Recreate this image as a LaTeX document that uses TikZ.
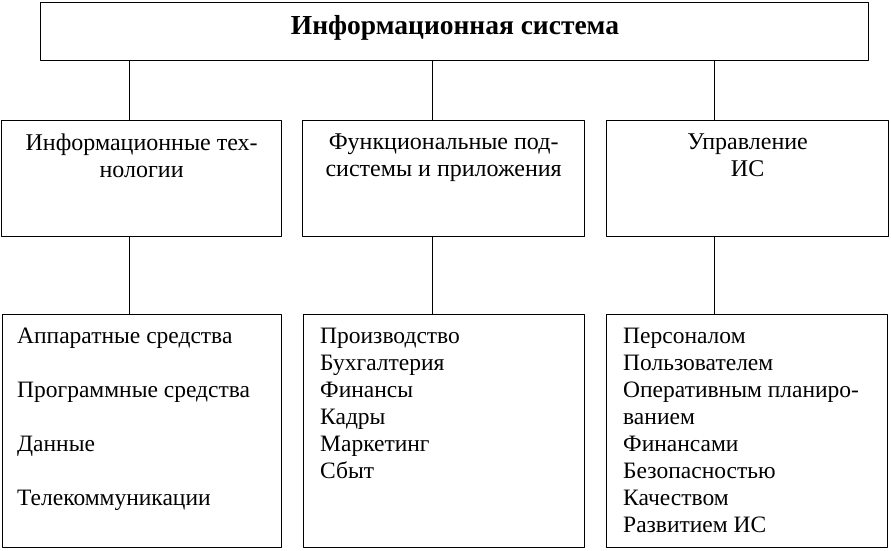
\documentclass[tikz,border=0pt]{standalone}
\usepackage{fontspec}
\setmainfont{Liberation Serif}
\usetikzlibrary{positioning}
\begin{document}
\begin{tikzpicture}[x=1pt, y=-1pt, font=\fontsize{23.5}{27}\selectfont, line join=round, line cap=round]
			%Kiểu khung.
			\tikzset{box/.style={draw, line width=1.3pt, inner sep=0pt, anchor=north west},
				item/.style={anchor=base west, inner sep=0pt},
				head/.style={align=center, inner sep=0pt, font=\fontsize{24}{27}\selectfont},
				link/.style={line width=1.3pt}}
			\useasboundingbox (0,0) rectangle (891,550);
			%Khung trên cùng.
			\node[box, minimum width=828pt, minimum height=58pt] (is) at (40,2) {};
			\node[font=\fontsize{27.5}{27}\selectfont\bfseries, inner sep=0pt] (is-t) at (455,28) {Информационная система};
			%Khung giữa.
			\node[box, minimum width=280pt, minimum height=116pt] (it) at (1,120) {};
			\node[box, minimum width=282pt, minimum height=116pt] (fs) at (302,120) {};
			\node[box, minimum width=282pt, minimum height=116pt] (mg) at (606,120) {};
			\node[head, below=14pt of it.north] (it-t) {Информационные тех-\\нологии};
			\node[head, below=14pt of fs.north] (fs-t) {Функциональные под-\\системы и приложения};
			\node[head, below=14pt of mg.north] (mg-t) {Управление\\ИС};
			%Khung dưới.
			\node[box, minimum width=279pt, minimum height=233pt] (itl) at (2,314) {};
			\node[box, minimum width=281pt, minimum height=233pt] (fsl) at (303,314) {};
			\node[box, minimum width=281pt, minimum height=233pt] (mgl) at (606,314) {};
			\foreach \t [count=\i] in {Аппаратные средства, Программные средства, Данные, Телекоммуникации}{
					\node[item] (itl-\i) at (17,{343+(\i-1)*54}) {\t};
				}
			\foreach \t [count=\i] in {Производство, Бухгалтерия, Финансы, Кадры, Маркетинг, Сбыт}{
					\node[item] (fsl-\i) at (320,{343+(\i-1)*27}) {\t};
				}
			\foreach \t [count=\i] in {Персоналом, Пользователем, Оперативным планиро-, ванием, Финансами, Безопасностью, Качеством, Развитием ИС}{
					\node[item] (mgl-\i) at (623,{343+(\i-1)*27}) {\t};
				}
			%Đường nối.
			\draw[link] ([xshift=-12pt]it.north) -- ([xshift=-12pt]it.north|-is.south);
			\draw[link] ([xshift=-11pt]fs.north) -- ([xshift=-11pt]fs.north|-is.south);
			\draw[link] ([xshift=-33pt]mg.north) -- ([xshift=-33pt]mg.north|-is.south);
			\draw[link] ([xshift=-12pt]it.south) -- ([xshift=-12pt]it.south|-itl.north);
			\draw[link] ([xshift=-11pt]fs.south) -- ([xshift=-11pt]fs.south|-fsl.north);
			\draw[link] ([xshift=-33pt]mg.south) -- ([xshift=-33pt]mg.south|-mgl.north);
		\end{tikzpicture}
\end{document}
